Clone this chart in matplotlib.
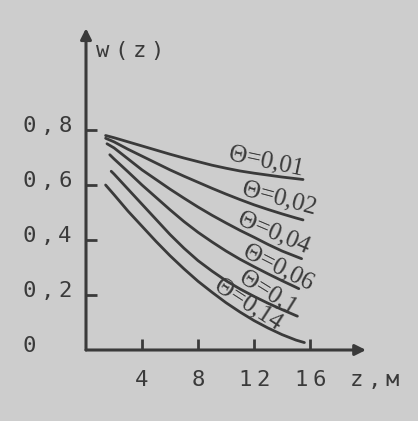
import matplotlib
matplotlib.use("Agg")
import matplotlib.pyplot as plt

# data (z in m, w(z))
z_01 = [1.4, 2, 3, 4, 5, 6, 7, 8, 9, 10, 11, 12, 13, 14, 15, 15.5]
w_01 = [0.78, 0.772, 0.757, 0.742, 0.727, 0.712, 0.698, 0.685, 0.672,
        0.661, 0.651, 0.643, 0.636, 0.629, 0.623, 0.62]
z_02 = [1.4, 2, 3, 4, 5, 6, 7, 8, 9, 10, 11, 12, 13, 14, 15, 15.5]
w_02 = [0.77, 0.757, 0.73, 0.705, 0.68, 0.655, 0.632, 0.61, 0.588,
        0.567, 0.547, 0.528, 0.511, 0.495, 0.48, 0.473]
z_04 = [1.5, 2, 3, 4, 5, 6, 7, 8, 9, 10, 11, 12, 13, 14, 15, 15.4]
w_04 = [0.75, 0.735, 0.695, 0.655, 0.62, 0.585, 0.552, 0.52, 0.49,
        0.462, 0.435, 0.41, 0.384, 0.36, 0.34, 0.332]
z_06 = [1.7, 2, 3, 4, 5, 6, 7, 8, 9, 10, 11, 12, 13, 14, 15, 15.2]
w_06 = [0.71, 0.695, 0.648, 0.60, 0.555, 0.51, 0.467, 0.428, 0.393,
        0.36, 0.33, 0.303, 0.277, 0.252, 0.228, 0.223]
z_10 = [1.8, 2, 3, 4, 5, 6, 7, 8, 9, 10, 11, 12, 13, 14, 15, 15.1]
w_10 = [0.65, 0.64, 0.585, 0.53, 0.475, 0.42, 0.37, 0.325, 0.287,
        0.252, 0.222, 0.195, 0.17, 0.147, 0.125, 0.123]
z_14 = [1.4, 2, 3, 4, 5, 6, 7, 8, 9, 10, 11, 12, 13, 14, 15, 15.6]
w_14 = [0.60, 0.565, 0.505, 0.45, 0.395, 0.343, 0.295, 0.25, 0.21,
        0.172, 0.138, 0.107, 0.08, 0.056, 0.036, 0.027]

series_z = [z_01, z_02, z_04, z_06, z_10, z_14]
series_w = [w_01, w_02, w_04, w_06, w_10, w_14]
theta_labels = ["Θ=0,01", "Θ=0,02", "Θ=0,04", "Θ=0,06", "Θ=0,1", "Θ=0,14"]

x_ticks = [4, 8, 12, 16]
x_ticklabels = ["4", "8", "12", "16"]
y_ticks = [0.2, 0.4, 0.6, 0.8]
y_label_vals = [0, 0.2, 0.4, 0.6, 0.8]
y_ticklabels = ["0", "0,2", "0,4", "0,6", "0,8"]

# label layout (position in data coords, rotation)
label_pos = [(12.9, 0.685, -12), (13.8, 0.55, -15), (13.4, 0.425, -23),
             (13.7, 0.30, -27), (13.0, 0.21, -32), (11.6, 0.165, -33)]

bg = "#cdcdcd"
ink = "#3a3a3a"
PX = 0.72  # points per pixel at dpi 100
PITCH = 18 * PX
MONO = "DejaVu Sans Mono"
FS = 16

fig = plt.figure(figsize=(4.18, 4.21), dpi=100, facecolor=bg)
ax = fig.add_axes([86 / 418, 71 / 421, 280 / 418, 1.17 * 275 / 421])
ax.set_facecolor(bg)
ax.set_xlim(0, 20)
ax.set_ylim(0, 1.17)


def spaced(s, xy, xycoords, dx0, dy, center=False):
    n = len(s)
    start = dx0 - (n - 1) * PITCH / 2 if center else dx0
    for i, ch in enumerate(s):
        ax.annotate(ch, xy=xy, xycoords=xycoords,
                    xytext=(start + i * PITCH, dy), textcoords="offset points",
                    ha="center", va="baseline", fontsize=FS, family=MONO,
                    color=ink, annotation_clip=False)


for zs, ws in zip(series_z, series_w):
    ax.plot(zs, ws, color=ink, lw=2.0, solid_capstyle="round")

for txt, (x, y, r) in zip(theta_labels, label_pos):
    ax.text(x, y, txt, rotation=r, ha="center", va="center",
            fontsize=18, family="Liberation Serif", color=ink,
            rotation_mode="anchor")

for s in ax.spines.values():
    s.set_visible(False)

# axes with arrows
ax.annotate("", xy=(1.0, 0), xycoords="axes fraction", xytext=(0, 0),
            arrowprops=dict(arrowstyle="-|>", color=ink, lw=2.2,
                            mutation_scale=16, shrinkA=0, shrinkB=0))
ax.annotate("", xy=(0, 1.0), xycoords="axes fraction", xytext=(0, 0),
            arrowprops=dict(arrowstyle="-|>", color=ink, lw=2.2,
                            mutation_scale=16, shrinkA=0, shrinkB=0))

ax.set_xticks(x_ticks)
ax.set_yticks(y_ticks)
ax.set_xticklabels([])
ax.set_yticklabels([])
ax.tick_params(axis="both", direction="in", length=8, width=2, color=ink)

ytrans = ax.get_yaxis_transform()
for v, lab in zip(y_label_vals, y_ticklabels):
    spaced(lab, (0, v), ytrans, -57 * PX, -2 * PX)

xtrans = ax.get_xaxis_transform()
for v, lab in zip(x_ticks, x_ticklabels):
    spaced(lab, (v, 0), xtrans, 0, -36 * PX, center=True)

spaced("w(z)", (0, 1), "axes fraction", 17 * PX, -29 * PX)
spaced("z,м", (1, 0), "axes fraction", -10 * PX, -36 * PX)

fig.savefig("out.png", dpi=100, facecolor=bg)
